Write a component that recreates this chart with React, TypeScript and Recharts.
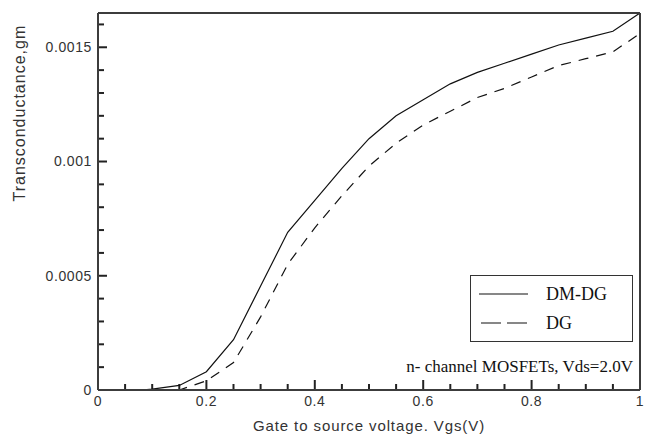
import { LineChart, Line, XAxis, YAxis, Legend, Customized, ReferenceLine } from "recharts";

const vgs = [0.08, 0.1, 0.15, 0.2, 0.25, 0.3, 0.35, 0.4, 0.45, 0.5, 0.55, 0.6, 0.65, 0.7, 0.75, 0.8, 0.85, 0.9, 0.95, 1.0];
const dmdg = [0, 0.000004, 0.00002, 0.00008, 0.00022, 0.000455, 0.00069, 0.00083, 0.00097, 0.0011, 0.0012, 0.00127, 0.00134, 0.00139, 0.00143, 0.00147, 0.00151, 0.00154, 0.00157, 0.00165];
const dg = [0, 0, 0, 0.00004, 0.00012, 0.00032, 0.00055, 0.00071, 0.00085, 0.00098, 0.00108, 0.00116, 0.00122, 0.00128, 0.00132, 0.00137, 0.00142, 0.00145, 0.00148, 0.00156];

const xMajorTicks = [0, 0.2, 0.4, 0.6, 0.8, 1];
const xMinorTicks = [0.05, 0.1, 0.15, 0.25, 0.3, 0.35, 0.45, 0.5, 0.55, 0.65, 0.7, 0.75, 0.85, 0.9, 0.95];
const yMajorTicks = [0, 0.0005, 0.001, 0.0015];
const yMinorTicks = [0.0001, 0.0002, 0.0003, 0.0004, 0.0006, 0.0007, 0.0008, 0.0009, 0.0011, 0.0012, 0.0013, 0.0014, 0.0016];

const data = vgs.map((v, i) => ({ v, dmdg: dmdg[i], dg: dg[i] }));

const X_MAX = 1;
const Y_MAX = 0.00165;
// plot area is 542 x 377 px; tick lengths in px -> data units
const xPerPx = X_MAX / 542;
const yPerPx = Y_MAX / 377;

const axisColor = "#3c3c3c";
const tickFont = { fontFamily: "Liberation Sans, Arial, sans-serif", fontSize: 14, fill: "#333", letterSpacing: 0.6 };
const fmt = (v: number) => String(Number(v.toFixed(4)));

const renderLegend = () => (
  <div style={{ border: "1px solid #333", width: 161, height: 65, background: "#fff", boxSizing: "content-box" }}>
    <svg width={161} height={65}>
      <line x1={8} x2={57} y1={18} y2={18} stroke="#111" strokeWidth={1.2} />
      <line x1={10} x2={56} y1={47} y2={47} stroke="#111" strokeWidth={1.2} strokeDasharray="20 6" />
      <text x={75} y={24} fontFamily="Liberation Serif, Times New Roman, serif" fontSize={18} fill="#111">DM-DG</text>
      <text x={75} y={53} fontFamily="Liberation Serif, Times New Roman, serif" fontSize={18} fill="#111">DG</text>
    </svg>
  </div>
);

const Note = () => (
  <text x={633} y={372} textAnchor="end" fontFamily="Liberation Serif, Times New Roman, serif" fontSize={17} fill="#111">
    n- channel MOSFETs, Vds=2.0V
  </text>
);

export default function App() {
  return (
    <div style={{ position: "absolute", left: 0, top: 0, background: "#fff" }}>
      <LineChart width={645} height={437} data={data} margin={{ top: 0, right: 0, bottom: 0, left: 0 }}>
        <XAxis
          dataKey="v"
          type="number"
          domain={[0, X_MAX]}
          ticks={xMajorTicks}
          interval={0}
          tickFormatter={fmt}
          tick={tickFont}
          tickSize={0}
          tickMargin={6}
          tickLine={false}
          height={47}
          axisLine={{ stroke: axisColor, strokeWidth: 2 }}
          label={{ value: "Gate to source voltage. Vgs(V)", position: "insideBottom", offset: 6, ...tickFont, fontSize: 15, letterSpacing: 0.9 }}
        />
        <XAxis xAxisId="top" orientation="top" type="number" domain={[0, X_MAX]} height={13} tick={false} tickLine={false} axisLine={{ stroke: axisColor, strokeWidth: 2 }} />
        <YAxis
          type="number"
          domain={[0, Y_MAX]}
          allowDataOverflow
          ticks={yMajorTicks}
          interval={0}
          tickFormatter={fmt}
          tick={tickFont}
          tickSize={0}
          tickMargin={6}
          tickLine={false}
          width={98}
          axisLine={{ stroke: axisColor, strokeWidth: 2 }}
          label={{ value: "Transconductance,gm", angle: -90, position: "insideLeft", offset: 19, ...tickFont, fontSize: 16, letterSpacing: 1 }}
        />
        <YAxis yAxisId="r" orientation="right" width={5} tick={false} tickLine={false} axisLine={{ stroke: axisColor, strokeWidth: 2 }} />
        {[...xMajorTicks, ...xMinorTicks].map((v) => (
          <ReferenceLine
            key={"x" + v}
            segment={[{ x: v, y: 0 }, { x: v, y: (xMajorTicks.includes(v) ? 10 : 6) * yPerPx }]}
            stroke="#222"
            strokeWidth={2}
            ifOverflow="extendDomain"
          />
        ))}
        {[...yMajorTicks, ...yMinorTicks].map((v) => (
          <ReferenceLine
            key={"y" + v}
            segment={[{ x: 0, y: v }, { x: (yMajorTicks.includes(v) ? 9 : 6) * xPerPx, y: v }]}
            stroke="#222"
            strokeWidth={2}
            ifOverflow="extendDomain"
          />
        ))}
        <Line type="linear" dataKey="dmdg" name="DM-DG" stroke="#111" strokeWidth={1.2} dot={false} isAnimationActive={false} />
        <Line type="linear" dataKey="dg" name="DG" stroke="#111" strokeWidth={1.2} strokeDasharray="10 8" dot={false} isAnimationActive={false} />
        <Legend
          layout="vertical"
          align="center"
          verticalAlign="middle"
          content={renderLegend}
          wrapperStyle={{ position: "absolute", left: 470, top: 275, width: 163, height: 67 }}
        />
        <Customized component={Note} />
      </LineChart>
    </div>
  );
}
